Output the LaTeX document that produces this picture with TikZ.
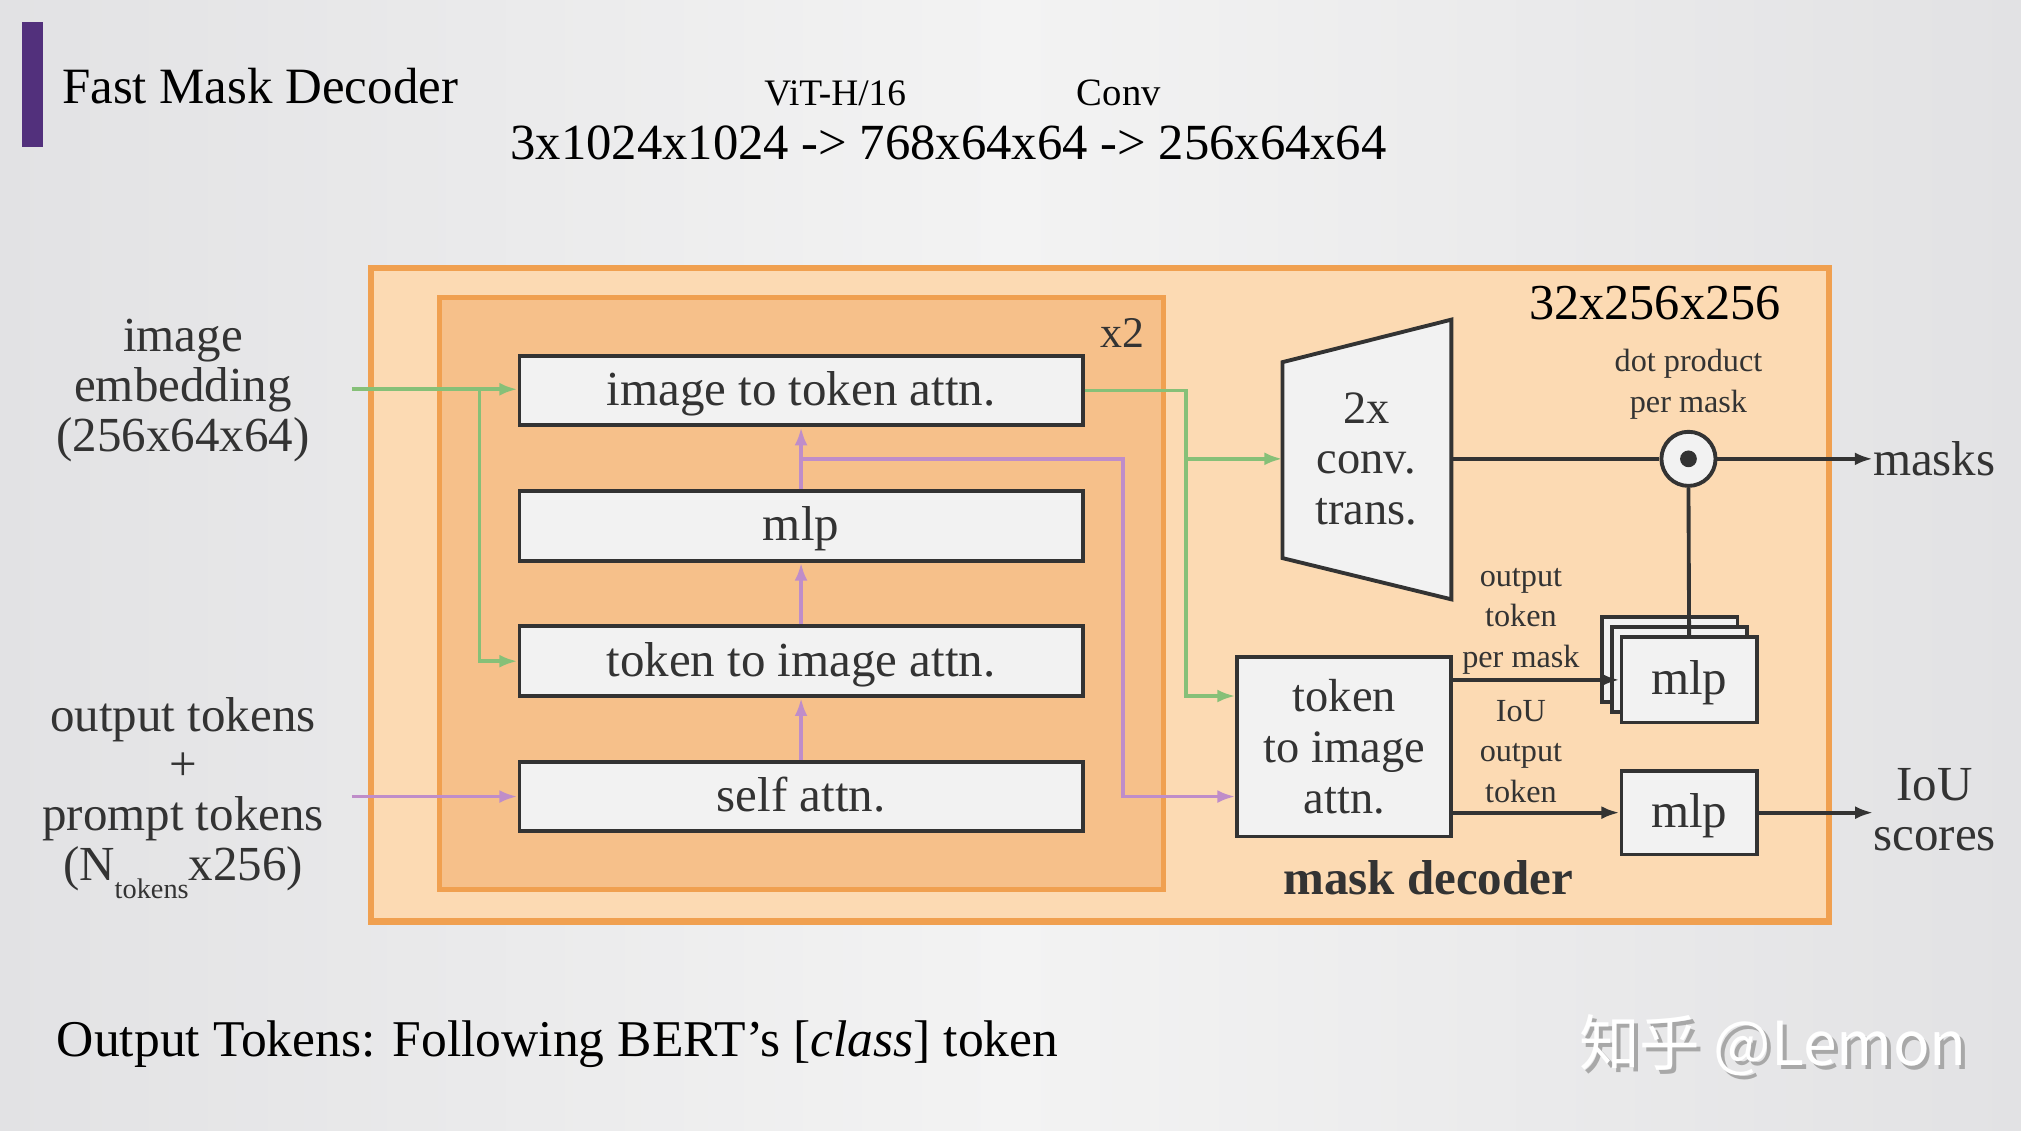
\documentclass[tikz,border=0pt]{standalone}
\usepackage{fontspec}
\setmainfont{Liberation Serif}
\newfontfamily\cjkfont{Noto Sans CJK SC}
\usetikzlibrary{arrows.meta,calc}
\definecolor{bgA}{HTML}{E2E2E4}
\definecolor{bgB}{HTML}{F3F3F3}
\definecolor{peach}{HTML}{FCDAB3}
\definecolor{peachD}{HTML}{F6C08A}
\definecolor{orng}{HTML}{F0A050}
\definecolor{grn}{HTML}{86C078}
\definecolor{prp}{HTML}{BF8DC9}
\definecolor{ink}{HTML}{333333}
\definecolor{boxfill}{HTML}{F2F2F2}
\definecolor{barpurple}{HTML}{52307C}
\definecolor{shadowgray}{HTML}{A8A8A8}
\begin{document}
\begin{tikzpicture}[x=1pt,y=-1pt,
  blk/.style={draw=ink,line width=3pt,fill=boxfill,minimum width=437pt,minimum height=54pt,inner sep=0pt,
    font=\fontsize{38}{40}\selectfont,text=ink,text height=31pt,text depth=8pt},
  mbox/.style={draw=ink,line width=3pt,fill=boxfill,minimum width=105pt,minimum height=66pt,inner sep=0pt,
    font=\fontsize{38}{40}\selectfont,text=ink,text height=31pt,text depth=8pt},
  tip/.style={-{Latex[length=14pt,width=10pt]}},
  garr/.style={draw=grn,line width=3pt,tip},
  gline/.style={draw=grn,line width=3pt},
  parr/.style={draw=prp,line width=3pt,tip},
  pline/.style={draw=prp,line width=3pt},
  karr/.style={draw=ink,line width=3pt,tip},
  kline/.style={draw=ink,line width=3pt},
  lbl/.style={align=center,text=ink,font=\fontsize{38}{38.5}\selectfont,inner sep=0pt},
  small/.style={align=center,text=ink,font=\fontsize{25}{31.5}\selectfont,inner sep=0pt},
  slide/.style={text=black,inner sep=0pt}
]
% background
\fill[left color=bgA,right color=bgA,middle color=bgB] (0,0) rectangle (1568,877);
\useasboundingbox (0,0) rectangle (1568,877);

% title area
\fill[barpurple] (17,17) rectangle (33,114);
\node[slide,anchor=base west,font=\fontsize{39.5}{40}\selectfont] (title) at (48,80) {Fast Mask Decoder};
\node[slide,anchor=base,font=\fontsize{29}{30}\selectfont] (vit) at (648,82) {ViT-H/16};
\node[slide,anchor=base,font=\fontsize{30}{30}\selectfont] (convtxt) at (868,82) {Conv};
\node[slide,anchor=base,font=\fontsize{39.3}{40}\selectfont] (shapes) at (736,124) {3x1024x1024 -> 768x64x64 -> 256x64x64};

% containers
\draw[draw=orng,line width=5pt,fill=peach] (288,208) rectangle (1419,715);
\draw[draw=orng,line width=4pt,fill=peachD] (341,231) rectangle (903,690);
\node[lbl,font=\fontsize{34}{34}\selectfont] (x2) at (871,258) {x2};
\node[lbl,font=\fontsize{39}{39}\selectfont,text=black] (res) at (1284,235) {32x256x256};
\node[lbl,font=\fontsize{38}{38}\selectfont\bfseries] (md) at (1108,681) {mask decoder};

% transformer blocks
\node[blk] (ita) at (621.5,303) {image to token attn.};
\node[blk] (mlpA) at (621.5,408) {mlp};
\node[blk] (tia) at (621.5,513) {token to image attn.};
\node[blk] (sa) at (621.5,618) {self attn.};

% inputs
\node[lbl] (imgemb) at (142,303) {image\\embedding\\(256x64x64)};
\node[lbl] (toks) at (142,619) {output tokens\\+\\prompt tokens\\(N\raisebox{-14pt}{\fontsize{22}{22}\selectfont tokens}x256)};
\coordinate (imgin) at (273,302);
\coordinate (tokin) at (273,618);
\coordinate (gb) at (372,302);
\draw[garr] (imgin) -- (ita.west |- imgin);
\draw[garr] (gb) |- (tia.west);
\draw[parr] (tokin) -- (sa.west);

% purple chain
\draw[parr] (sa.north) -- (tia.south);
\draw[parr] (tia.north) -- (mlpA.south);
\draw[parr] (mlpA.north) -- (ita.south);

% conv trans
\draw[draw=ink,line width=3pt,fill=boxfill] (995,281) -- (1126,248) -- (1126,465) -- (995,433) -- cycle;
\node[lbl,font=\fontsize{36}{39}\selectfont] (conv) at (1060,356) {2x\\conv.\\trans.};
\coordinate (convL) at (995,356);
\coordinate (convR) at (1126,356);

% token to image attn (decoder)
\node[draw=ink,line width=3pt,fill=boxfill,minimum width=166pt,minimum height=139pt,inner sep=0pt,
  align=center,text=ink,font=\fontsize{36}{39.5}\selectfont] (ttia) at (1043,579.5) {token\\to image\\attn.};

% green output paths
\coordinate (gc) at (920,356);
\draw[gline] (ita.east) -| (gc);
\draw[garr] (gc) -- (convL);
\draw[garr] (gc) |- (ttia.west |- 0,540);

% purple branch
\coordinate (pb) at (621.5,356);
\draw[parr] (pb) -| (871,450) |- (ttia.west |- sa.east);

% dot product
\node[circle,draw=ink,line width=3pt,fill=boxfill,minimum size=42pt,inner sep=0pt] (dot) at (1310,356) {};
\fill[ink] (dot.center) circle (6.5);
\draw[kline] (convR) -- (dot.west);
\node[lbl,anchor=west] (masks) at (1453,356) {masks};
\draw[karr] (dot.east) -- (masks.west);
\node[small] (dpl) at (1310,298) {dot product\\per mask};

% mlp stack
\node[mbox] (m3) at (1295.5,511.5) {};
\node[mbox] (m2) at (1303,519.5) {};
\node[mbox] (m1) at (1310.5,527.5) {mlp};
\draw[kline] (dot.south) -- (m1.north);
\draw[karr] (ttia.east |- m1.west) -- (m1.west);
\node[small] (otl) at (1180,482) {output\\token\\per mask};

% IoU mlp
\node[mbox,minimum height=65pt] (m4) at (1310.5,630.5) {mlp};
\draw[karr] (ttia.east |- m4.west) -- (m4.west);
\node[small] (iotl) at (1180,583) {IoU\\output\\token};
\node[lbl] (iou) at (1501,628) {IoU\\scores};
\draw[karr] (m4.east) -- (iou.west |- m4.east);

% bottom
\node[slide,anchor=base west,font=\fontsize{40}{41}\selectfont] (note) at (44,820) {Output Tokens: Following BERT’s [\textit{class}] token};

% watermark
\node[anchor=base west,inner sep=0pt,text=shadowgray,font=\cjkfont\fontsize{47}{47}\selectfont] (wms) at (1228,830) {知乎 @Lemon};
\node[anchor=base west,inner sep=0pt,text=white,font=\cjkfont\fontsize{47}{47}\selectfont] (wm) at (1225,827) {知乎 @Lemon};
\end{tikzpicture}
\end{document}
